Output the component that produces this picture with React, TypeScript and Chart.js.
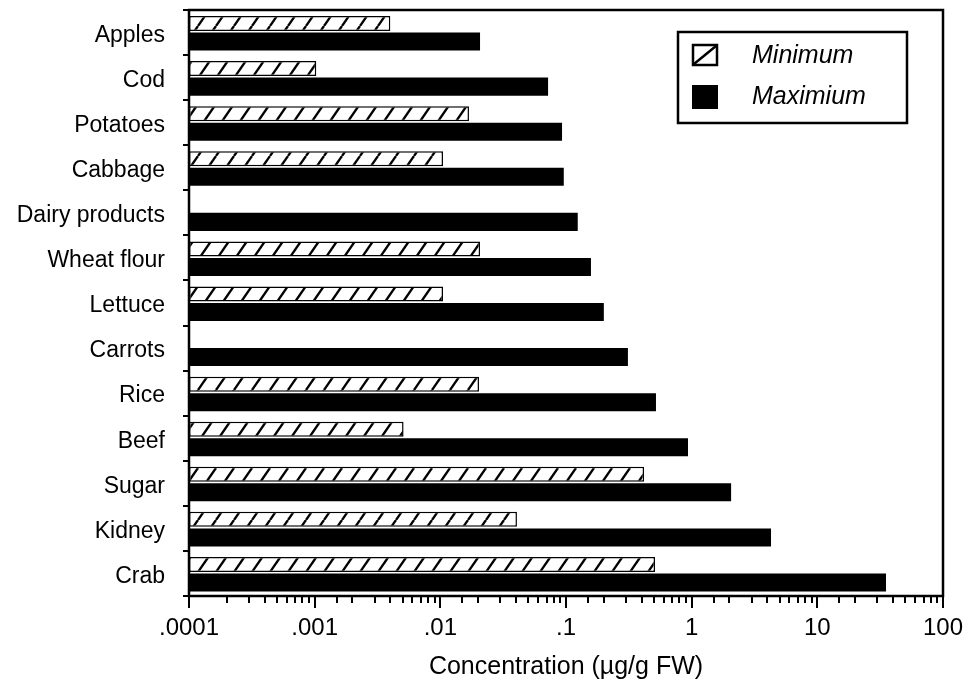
import React, { useEffect, useRef } from "react";
import { Chart, registerables } from "chart.js";

Chart.register(...registerables);

const categories = [
  "Apples",
  "Cod",
  "Potatoes",
  "Cabbage",
  "Dairy products",
  "Wheat flour",
  "Lettuce",
  "Carrots",
  "Rice",
  "Beef",
  "Sugar",
  "Kidney",
  "Crab",
];
const minimumValues: (number | null)[] = [
  0.004, 0.00103, 0.0169, 0.0105, null, 0.0207, 0.0105, null, 0.0203, 0.0051, 0.418, 0.0407, 0.511,
];
const maximumValues: number[] = [
  0.0207, 0.072, 0.093, 0.096, 0.124, 0.158, 0.2, 0.311, 0.52, 0.935, 2.06, 4.28, 35.2,
];
const seriesLabels = ["Minimum", "Maximium"];
const xTickValues = [0.0001, 0.001, 0.01, 0.1, 1, 10, 100];
const xTickLabels = [".0001", ".001", ".01", ".1", "1", "10", "100"];
const xAxisTitle = "Concentration (µg/g FW)";

const FONT = "'Liberation Sans', Arial, Helvetica, sans-serif";

function makeHatch(): CanvasPattern | string {
  const W = 18;
  const H = 26;
  const c = document.createElement("canvas");
  c.width = W;
  c.height = H;
  const g = c.getContext("2d");
  if (!g) return "#fff";
  g.fillStyle = "#fff";
  g.fillRect(0, 0, W, H);
  g.strokeStyle = "#000";
  g.lineWidth = 2.4;
  for (let k = -1; k <= 1; k++) {
    g.beginPath();
    g.moveTo(k * W, H);
    g.lineTo(k * W + W, 0);
    g.stroke();
  }
  return g.createPattern(c, "repeat") || "#fff";
}

const framePlugin = {
  id: "frameAndTicks",
  afterDraw(chart: any) {
    const { ctx, chartArea } = chart;
    const { left, right, top, bottom } = chartArea;
    ctx.save();
    const xs = chart.scales.x;
    ctx.strokeStyle = "#000";
    ctx.lineWidth = 2;
    for (const t of xs.ticks) {
      const lg = Math.log10(t.value);
      const major = Math.abs(lg - Math.round(lg)) < 1e-6;
      const len = major ? 12 : 7;
      const px = Math.round(xs.getPixelForValue(t.value));
      ctx.beginPath();
      ctx.moveTo(px, bottom);
      ctx.lineTo(px, bottom + len);
      ctx.stroke();
    }
    ctx.lineWidth = 2.5;
    ctx.strokeRect(left, top, right - left, bottom - top);
    ctx.restore();
  },
};

const legendPlugin = {
  id: "boxLegend",
  afterDraw(chart: any) {
    const { ctx } = chart;
    const ds = chart.data.datasets;
    ctx.save();
    ctx.strokeStyle = "#000";
    ctx.lineWidth = 2.5;
    ctx.fillStyle = "#fff";
    ctx.fillRect(678, 32, 229, 91);
    ctx.strokeRect(678, 32, 229, 91);
    ctx.lineWidth = 2.5;
    ctx.strokeRect(693, 45, 24, 20);
    ctx.beginPath();
    ctx.moveTo(694, 64);
    ctx.lineTo(716, 46);
    ctx.stroke();
    ctx.fillStyle = ds[1].backgroundColor;
    ctx.fillRect(692, 85, 26, 24);
    ctx.fillStyle = "#000";
    ctx.font = `italic 25px ${FONT}`;
    ctx.textBaseline = "middle";
    ctx.textAlign = "left";
    ctx.fillText(ds[0].label, 752, 56);
    ctx.fillText(ds[1].label, 752, 97);
    ctx.restore();
  },
};

export default function App() {
  const ref = useRef<HTMLCanvasElement | null>(null);

  useEffect(() => {
    if (!ref.current) return;
    const hatch = makeHatch();
    const chart = new Chart(ref.current, {
      type: "bar",
      data: {
        labels: categories,
        datasets: [
          {
            label: seriesLabels[0],
            data: minimumValues as any,
            backgroundColor: hatch as any,
            borderColor: "#000",
            borderWidth: 1.5,
            borderSkipped: false,
            maxBarThickness: 15,
          },
          {
            label: seriesLabels[1],
            data: maximumValues,
            backgroundColor: "#000",
            borderWidth: 0,
          },
        ],
      },
      options: {
        indexAxis: "y",
        responsive: false,
        animation: false,
        events: [],
        layout: { padding: { top: 10, right: 29, left: 0, bottom: 0 } },
        datasets: { bar: { categoryPercentage: 0.8, barPercentage: 1 } } as any,
        plugins: {
          legend: { display: false },
          tooltip: { enabled: false },
        },
        scales: {
          x: {
            type: "logarithmic",
            position: "bottom",
            min: 0.0001,
            max: 100,
            border: { display: false },
            grid: {
              display: true,
              drawOnChartArea: false,
              tickLength: 12,
              color: "rgba(0,0,0,0)",
            },
            ticks: {
              autoSkip: false,
              maxRotation: 0,
              minRotation: 0,
              padding: 6,
              color: "#000",
              font: { family: FONT, size: 24 },
              callback: (v: any) => {
                const val = Number(v);
                const i = xTickValues.findIndex(
                  (t) => Math.abs(Math.log10(t) - Math.log10(val)) < 1e-6
                );
                return i >= 0 ? xTickLabels[i] : "";
              },
            },
            title: {
              display: true,
              text: xAxisTitle,
              color: "#000",
              font: { family: FONT, size: 25 },
              padding: { top: 0, bottom: 3 },
            },
            afterFit: (s: any) => {
              s.height = 89;
            },
          },
          y: {
            type: "category",
            offset: true,
            border: { display: false },
            grid: {
              display: true,
              drawOnChartArea: false,
              offset: true,
              tickLength: 6,
              color: "#000",
              lineWidth: 2,
            },
            ticks: {
              padding: 18,
              labelOffset: 3,
              color: "#000",
              font: { family: FONT, size: 23 },
            },
            afterFit: (s: any) => {
              s.width = 189;
              s.paddingTop = 0;
              s.paddingBottom = 0;
            },
          },
        },
      },
      plugins: [framePlugin, legendPlugin],
    });
    return () => chart.destroy();
  }, []);

  return (
    <div style={{ position: "absolute", left: 0, top: 0, width: 972, height: 685, background: "#fff" }}>
      <canvas ref={ref} width={972} height={685} style={{ display: "block" }} />
    </div>
  );
}
